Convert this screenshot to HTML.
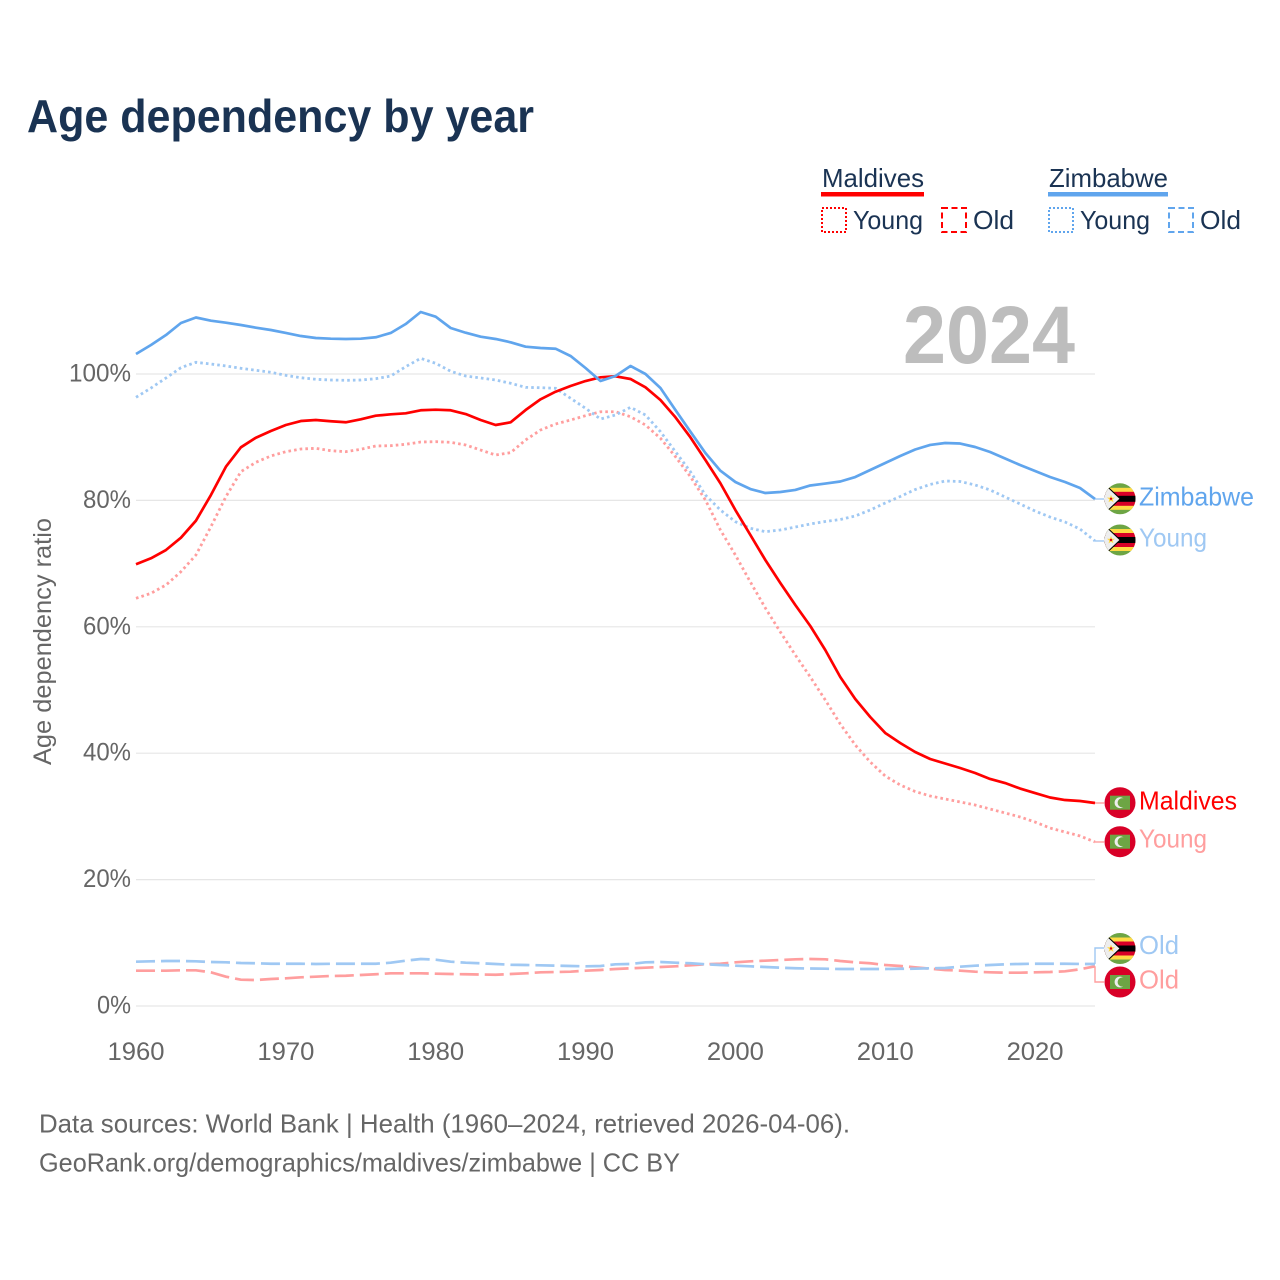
<!DOCTYPE html>
<html lang="en">
<head>
<meta charset="utf-8">
<title>Age dependency by year</title>
<style>
html,body{margin:0;padding:0;background:#fff;}
svg{display:block;font-family:"Liberation Sans",sans-serif;}
</style>
</head>
<body>
<svg id="chart" xmlns="http://www.w3.org/2000/svg" width="1280" height="1280" viewBox="0 0 1280 1280">
<defs>
  <clipPath id="flag-clip"><circle cx="0" cy="0" r="15.5"></circle></clipPath>
  <g id="flag-zimbabwe" clip-path="url(#flag-clip)">
    <rect x="-16" y="-16" width="32" height="32" fill="#6da544"></rect>
    <rect x="-16" y="-11" width="32" height="22" fill="#ffda44"></rect>
    <rect x="-16" y="-7" width="32" height="14" fill="#d80027"></rect>
    <rect x="-16" y="-3" width="32" height="6" fill="#000"></rect>
    <polygon points="-16,-16 1,0 -16,16" fill="#000"></polygon>
    <polygon points="-16,-14.6 -0.6,0 -16,14.6" fill="#eee"></polygon>
    <polygon points="-9,-4 -7.9,-1.2 -5,-1.2 -7.3,0.6 -6.5,3.4 -9,1.8 -11.5,3.4 -10.7,0.6 -13,-1.2 -10.1,-1.2" fill="#ffda44"></polygon>
    <circle cx="-9" cy="0" r="1.2" fill="#d80027"></circle>
  </g>
  <g id="flag-maldives" clip-path="url(#flag-clip)">
    <rect x="-16" y="-16" width="32" height="32" fill="#d80027"></rect>
    <rect x="-10" y="-7" width="20" height="14" fill="#6da544"></rect>
    <circle cx="0" cy="0" r="5.4" fill="#eee"></circle>
    <circle cx="2.2" cy="0" r="4.6" fill="#6da544"></circle>
  </g>
</defs>

<text x="27" y="132" font-size="46.5" font-weight="700" fill="#1a3353" textLength="507" lengthAdjust="spacingAndGlyphs">Age dependency by year</text>

<g>
  <g>
    <text x="822" y="187" font-size="26" fill="#1a3353" textLength="102" lengthAdjust="spacingAndGlyphs">Maldives</text>
    <rect x="821" y="192" width="103" height="4.5" fill="#ff0000"></rect>
    <rect x="822" y="208" width="24" height="24" fill="none" stroke="#ff0000" stroke-width="2" stroke-dasharray="2,2"></rect>
    <text x="853" y="229" font-size="26" fill="#1a3353" textLength="70" lengthAdjust="spacingAndGlyphs">Young</text>
    <rect x="942" y="208" width="24" height="24" fill="none" stroke="#ff0000" stroke-width="2" stroke-dasharray="6,3.5"></rect>
    <text x="973" y="229" font-size="26" fill="#1a3353" textLength="41" lengthAdjust="spacingAndGlyphs">Old</text>
  </g>
  <g>
    <text x="1049" y="187" font-size="26" fill="#1a3353" textLength="119" lengthAdjust="spacingAndGlyphs">Zimbabwe</text>
    <rect x="1048" y="192" width="120" height="4.5" fill="#60a5ed"></rect>
    <rect x="1049" y="208" width="24" height="24" fill="none" stroke="#60a5ed" stroke-width="2" stroke-dasharray="2,2"></rect>
    <text x="1080" y="229" font-size="26" fill="#1a3353" textLength="70" lengthAdjust="spacingAndGlyphs">Young</text>
    <rect x="1169" y="208" width="24" height="24" fill="none" stroke="#60a5ed" stroke-width="2" stroke-dasharray="6,3.5"></rect>
    <text x="1200" y="229" font-size="26" fill="#1a3353" textLength="41" lengthAdjust="spacingAndGlyphs">Old</text>
  </g>
</g>

<g id="grid"></g>
<g id="y-ticks"></g>
<g id="x-ticks"></g>

<text transform="translate(51,765) rotate(-90)" x="0" y="0" font-size="25" fill="#666" textLength="247" lengthAdjust="spacingAndGlyphs">Age dependency ratio</text>

<text x="903" y="363" font-size="82" font-weight="700" fill="#bdbdbd" textLength="172" lengthAdjust="spacingAndGlyphs">2024</text>

<g id="connectors"></g>
<g id="series"></g>

<g>
  <use href="#flag-zimbabwe" x="1120" y="498.8"></use>
  <text x="1139" y="505.5" font-size="26" fill="#60a5ed" textLength="115" lengthAdjust="spacingAndGlyphs">Zimbabwe</text>
  <use href="#flag-zimbabwe" x="1120" y="540"></use>
  <text x="1139" y="546.5" font-size="26" fill="#9fc8f3" textLength="68" lengthAdjust="spacingAndGlyphs">Young</text>
  <use href="#flag-maldives" x="1120" y="802.7"></use>
  <text x="1139" y="809.5" font-size="26" fill="#ff0000" textLength="98" lengthAdjust="spacingAndGlyphs">Maldives</text>
  <use href="#flag-maldives" x="1120" y="841.7"></use>
  <text x="1139" y="847.5" font-size="26" fill="#ff9e9e" textLength="68" lengthAdjust="spacingAndGlyphs">Young</text>
  <use href="#flag-zimbabwe" x="1120" y="948.5"></use>
  <text x="1139" y="954" font-size="26" fill="#9fc8f3" textLength="40" lengthAdjust="spacingAndGlyphs">Old</text>
  <use href="#flag-maldives" x="1120" y="982"></use>
  <text x="1139" y="988.5" font-size="26" fill="#ff9e9e" textLength="40" lengthAdjust="spacingAndGlyphs">Old</text>
</g>

<text x="39" y="1132.5" font-size="26" fill="#666" textLength="811" lengthAdjust="spacingAndGlyphs">Data sources: World Bank | Health (1960–2024, retrieved 2026-04-06).</text>
<text x="39" y="1171.5" font-size="26" fill="#666" textLength="641" lengthAdjust="spacingAndGlyphs">GeoRank.org/demographics/maldives/zimbabwe | CC BY</text>
</svg>

<script>
const firstYear = 1960;
const xTickLabels = ["1960","1970","1980","1990","2000","2010","2020"];
const yTickValues = [0,20,40,60,80,100];
const yTickLabels = ["0%","20%","40%","60%","80%","100%"];

const zimbabweTotal = [103.16,104.59,106.17,108.07,108.94,108.43,108.12,107.75,107.33,106.96,106.49,106.01,105.70,105.59,105.54,105.59,105.81,106.49,107.91,109.81,109.07,107.28,106.53,105.90,105.54,105.02,104.32,104.11,104.00,102.85,100.95,98.89,99.68,101.27,100.00,97.78,94.30,90.87,87.50,84.70,82.91,81.80,81.17,81.33,81.65,82.36,82.67,82.99,83.70,84.81,85.92,87.03,88.05,88.77,89.08,89.00,88.45,87.66,86.63,85.60,84.65,83.70,82.91,81.96,80.22];
const zimbabweYoung = [96.31,97.78,99.37,101.00,101.85,101.58,101.27,100.90,100.59,100.27,99.79,99.41,99.16,99.05,99.00,99.05,99.26,99.68,101.16,102.48,101.69,100.43,99.68,99.37,99.05,98.53,97.89,97.83,97.74,96.16,94.57,92.88,93.51,94.73,93.51,90.87,87.71,84.54,80.85,78.48,76.63,75.59,75.05,75.32,75.79,76.27,76.66,76.98,77.53,78.48,79.59,80.62,81.72,82.52,83.07,82.99,82.44,81.65,80.54,79.43,78.32,77.37,76.58,75.47,73.58];
const zimbabweOld = [7.01,7.07,7.12,7.12,7.07,6.96,6.91,6.80,6.76,6.69,6.69,6.68,6.65,6.68,6.68,6.68,6.69,6.85,7.17,7.44,7.33,7.01,6.85,6.76,6.65,6.53,6.49,6.44,6.38,6.33,6.28,6.33,6.60,6.65,6.91,6.96,6.85,6.76,6.60,6.49,6.38,6.28,6.17,6.06,5.97,5.93,5.90,5.85,5.85,5.85,5.85,5.89,5.90,5.97,6.01,6.22,6.38,6.49,6.60,6.65,6.69,6.69,6.69,6.65,6.65];
const maldivesTotal = [69.89,70.84,72.15,74.10,76.79,80.85,85.33,88.40,89.92,90.98,91.93,92.56,92.72,92.52,92.36,92.83,93.40,93.62,93.78,94.26,94.35,94.26,93.67,92.72,91.93,92.36,94.30,96.00,97.20,98.10,98.89,99.48,99.64,99.21,97.89,95.89,93.15,89.98,86.39,82.71,78.48,74.53,70.57,66.93,63.45,60.13,56.33,52.06,48.58,45.73,43.20,41.61,40.19,39.08,38.37,37.66,36.87,35.92,35.28,34.41,33.70,32.99,32.59,32.44,32.12];
const maldivesYoung = [64.51,65.30,66.61,68.72,71.36,75.84,80.59,84.54,86.03,87.03,87.71,88.13,88.24,87.86,87.71,88.09,88.61,88.66,88.88,89.24,89.29,89.19,88.77,87.97,87.18,87.55,89.56,91.14,92.09,92.72,93.40,94.03,94.03,93.24,91.93,89.83,86.92,83.75,80.06,75.32,71.36,67.09,62.97,59.18,55.54,52.06,48.42,44.62,41.30,38.61,36.39,34.97,33.94,33.23,32.75,32.28,31.80,31.17,30.54,29.91,29.11,28.16,27.53,26.90,25.95];
const maldivesOld = [5.59,5.59,5.59,5.65,5.65,5.33,4.64,4.16,4.11,4.27,4.38,4.54,4.64,4.75,4.79,4.91,5.02,5.17,5.17,5.17,5.11,5.06,5.02,4.98,4.95,5.06,5.17,5.33,5.38,5.43,5.59,5.70,5.85,5.97,6.06,6.17,6.28,6.44,6.60,6.69,6.91,7.07,7.17,7.28,7.39,7.44,7.39,7.12,6.91,6.76,6.49,6.33,6.12,5.90,5.70,5.59,5.43,5.33,5.27,5.27,5.33,5.38,5.49,5.81,6.28];

const SVGNS = "http://www.w3.org/2000/svg";
function xScale(year){ return 136 + (year - 1960) * (1095 - 136) / 64; }
function yScale(v){ return 1006 - v * 6.32; }
function make(tag, attrs, parent){
  const el = document.createElementNS(SVGNS, tag);
  Object.keys(attrs).forEach(function(k){ el.setAttribute(k, attrs[k]); });
  parent.appendChild(el);
  return el;
}
function linePath(values){
  return values.map(function(v, i){
    return (i ? "L" : "M") + xScale(firstYear + i).toFixed(2) + " " + yScale(v).toFixed(2);
  }).join("");
}

const gridGroup = document.getElementById("grid");
const yTickGroup = document.getElementById("y-ticks");
yTickValues.forEach(function(v, i){
  const line = make("line", {x1: 136, x2: 1095, y1: yScale(v), y2: yScale(v), stroke: "#e6e6e6", "stroke-width": 1.2}, gridGroup);
  
  
  const label = make("text", {x: 131, y: yScale(v) + 7.5, "text-anchor": "end", "font-size": 25, fill: "#666", textLength: yTickLabels[i].length * 14 + 6, lengthAdjust: "spacingAndGlyphs"}, yTickGroup);
  
  
  label.textContent = yTickLabels[i];
});

const xTickGroup = document.getElementById("x-ticks");
xTickLabels.forEach(function(t){
  const label = make("text", {x: xScale(Number(t)), y: 1060, "text-anchor": "middle", "font-size": 25, fill: "#666", textLength: 57, lengthAdjust: "spacingAndGlyphs"}, xTickGroup);
  
  
  label.textContent = t;
});

const seriesGroup = document.getElementById("series");
const blue = "#60a5ed", red = "#ff0000", lightBlue = "#9fc8f3", lightRed = "#ff9e9e";
const dotted = "2.6,3.1", dashed = "19,6";

const mOldLine = make("path", {d: linePath(maldivesOld), fill: "none", stroke: lightRed, "stroke-width": 2.7, "stroke-dasharray": dashed}, seriesGroup);


const zOldLine = make("path", {d: linePath(zimbabweOld), fill: "none", stroke: lightBlue, "stroke-width": 2.7, "stroke-dasharray": dashed}, seriesGroup);


const mYoungLine = make("path", {d: linePath(maldivesYoung), fill: "none", stroke: lightRed, "stroke-width": 2.8, "stroke-dasharray": dotted}, seriesGroup);


const zYoungLine = make("path", {d: linePath(zimbabweYoung), fill: "none", stroke: lightBlue, "stroke-width": 2.8, "stroke-dasharray": dotted}, seriesGroup);


const mTotalLine = make("path", {d: linePath(maldivesTotal), fill: "none", stroke: red, "stroke-width": 2.7, "stroke-linejoin": "round"}, seriesGroup);


const zTotalLine = make("path", {d: linePath(zimbabweTotal), fill: "none", stroke: blue, "stroke-width": 2.7, "stroke-linejoin": "round"}, seriesGroup);



const connGroup = document.getElementById("connectors");
const lastX = xScale(firstYear + 64);
const c1 = make("path", {d: "M" + lastX + " " + yScale(zimbabweTotal[64]) + "H1104", fill: "none", stroke: lightBlue, "stroke-width": 1.4}, connGroup);


const c2 = make("path", {d: "M" + lastX + " " + yScale(zimbabweYoung[64]) + "H1104", fill: "none", stroke: lightBlue, "stroke-width": 1.4}, connGroup);


const c3 = make("path", {d: "M" + lastX + " " + yScale(maldivesTotal[64]) + "H1104", fill: "none", stroke: lightRed, "stroke-width": 1.4}, connGroup);


const c4 = make("path", {d: "M" + lastX + " " + yScale(maldivesYoung[64]) + "H1104", fill: "none", stroke: lightRed, "stroke-width": 1.4}, connGroup);


const c5 = make("path", {d: "M" + lastX + " " + yScale(zimbabweOld[64]) + "V948H1104", fill: "none", stroke: lightBlue, "stroke-width": 1.4}, connGroup);


const c6 = make("path", {d: "M" + lastX + " " + yScale(maldivesOld[64]) + "V982H1104", fill: "none", stroke: lightRed, "stroke-width": 1.4}, connGroup);


</script>
</body>
</html>
